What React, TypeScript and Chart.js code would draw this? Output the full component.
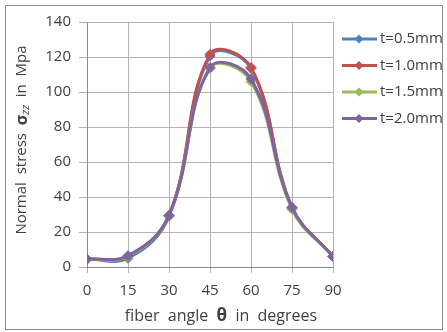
import React, { useEffect, useRef } from "react";
import { Chart, registerables } from "chart.js";

Chart.register(...registerables);

const angles = [0, 15, 30, 45, 60, 75, 90];
const xTicks = [0, 15, 30, 45, 60, 75, 90];
const seriesNames = ["t=0.5mm", "t=1.0mm", "t=1.5mm", "t=2.0mm"];
const t05 = [4.5, 5, 29, 120.5, 113.5, 33.5, 6];
const t10 = [4.5, 6, 29.5, 121.5, 114, 34, 6];
const t15 = [4.5, 6, 29.5, 113.5, 106, 33, 6];
const t20 = [4.5, 6.5, 29.5, 114, 107.5, 34, 6];
const seriesColors = ["#4F81BD", "#C0504D", "#9BBB59", "#8064A2"];

const FONT = "'Open Sans', 'Liberation Sans', sans-serif";
const TEXT = "#404040";

const framePlugin = {
  id: "frameAndTitles",
  afterDraw(chart: any) {
    const ctx = chart.ctx;
    ctx.save();
    // outer frame
    ctx.strokeStyle = "#8c8c8c";
    ctx.lineWidth = 1;
    ctx.strokeRect(5.5, 5.5, 437, 324);

    // legend
    const ds = chart.data.datasets;
    ds.forEach((d: any, i: number) => {
      const y = 39 + i * 26.5;
      ctx.strokeStyle = d.borderColor;
      ctx.lineWidth = 3;
      ctx.beginPath();
      ctx.moveTo(342, y);
      ctx.lineTo(377, y);
      ctx.stroke();
      ctx.fillStyle = d.borderColor;
      ctx.beginPath();
      ctx.moveTo(359, y - 4.5);
      ctx.lineTo(363.5, y);
      ctx.lineTo(359, y + 4.5);
      ctx.lineTo(354.5, y);
      ctx.closePath();
      ctx.fill();
      ctx.fillStyle = TEXT;
      ctx.font = `15px ${FONT}`;
      ctx.textAlign = "left";
      ctx.textBaseline = "middle";
      ctx.fillText(d.label, 380, y);
    });

    // y title
    const segs = [
      { t: "Normal  stress  ", f: `15px ${FONT}`, dy: 0 },
      { t: "\u03c3", f: `bold 16px ${FONT}`, dy: 0 },
      { t: "zz", f: `italic 11px ${FONT}`, dy: 4 },
      { t: "  in  Mpa", f: `15px ${FONT}`, dy: 0 },
    ];
    ctx.save();
    ctx.translate(22, 140);
    ctx.rotate(-Math.PI / 2);
    ctx.textBaseline = "middle";
    ctx.textAlign = "left";
    let total = 0;
    segs.forEach((s) => {
      ctx.font = s.f;
      total += ctx.measureText(s.t).width;
    });
    let x = -total / 2;
    ctx.fillStyle = TEXT;
    segs.forEach((s) => {
      ctx.font = s.f;
      ctx.fillText(s.t, x, s.dy);
      x += ctx.measureText(s.t).width;
    });
    ctx.restore();

    // x title
    const xs = [
      { t: "fiber  angle  ", f: `16px ${FONT}` },
      { t: "\u03b8", f: `bold 17px ${FONT}` },
      { t: "  in  degrees", f: `16px ${FONT}` },
    ];
    ctx.textBaseline = "middle";
    ctx.textAlign = "left";
    let tw = 0;
    xs.forEach((s) => {
      ctx.font = s.f;
      tw += ctx.measureText(s.t).width;
    });
    let xx = 221 - tw / 2;
    ctx.fillStyle = TEXT;
    xs.forEach((s) => {
      ctx.font = s.f;
      ctx.fillText(s.t, xx, 316);
      xx += ctx.measureText(s.t).width;
    });
    ctx.restore();
  },
};

export default function App() {
  const ref = useRef<HTMLCanvasElement>(null);
  useEffect(() => {
    document.body.style.margin = "0";
    const all = [t05, t10, t15, t20];
    const chart = new Chart(ref.current!, {
      type: "line",
      data: {
        datasets: all.map((vals, i) => ({
          label: seriesNames[i],
          data: angles.map((a, j) => ({ x: a, y: vals[j] })),
          borderColor: seriesColors[i],
          backgroundColor: seriesColors[i],
          borderWidth: 3,
          pointStyle: "rectRot",
          pointRadius: 5,
          pointBorderWidth: 1,
          tension: 0.4,
          fill: false,
          order: all.length - 1 - i,
        })),
      },
      options: {
        animation: false,
        responsive: false,
        layout: { padding: { left: 0, top: 22, right: 114, bottom: 0 } },
        plugins: { legend: { display: false }, tooltip: { enabled: false } },
        scales: {
          x: {
            type: "linear",
            min: 0,
            max: 90,
            afterBuildTicks: (scale: any) => {
              scale.ticks = xTicks.map((v) => ({ value: v }));
            },
            afterFit: (scale: any) => {
              scale.height = 65;
            },
            grid: { color: "#b4b4b4", tickLength: 6 },
            border: { color: "#8c8c8c" },
            ticks: { font: { size: 15, family: FONT }, color: TEXT, padding: 9 },
          },
          y: {
            min: 0,
            max: 140,
            afterFit: (scale: any) => {
              scale.width = 87;
            },
            grid: { color: "#b4b4b4", tickLength: 8 },
            border: { color: "#8c8c8c" },
            ticks: { stepSize: 20, font: { size: 15, family: FONT }, color: TEXT, padding: 8 },
          },
        },
      },
      plugins: [framePlugin],
    } as any);
    return () => chart.destroy();
  }, []);
  return (
    <div style={{ width: 447, height: 332, background: "#fff" }}>
      <canvas ref={ref} width={447} height={332} style={{ display: "block" }} />
    </div>
  );
}
